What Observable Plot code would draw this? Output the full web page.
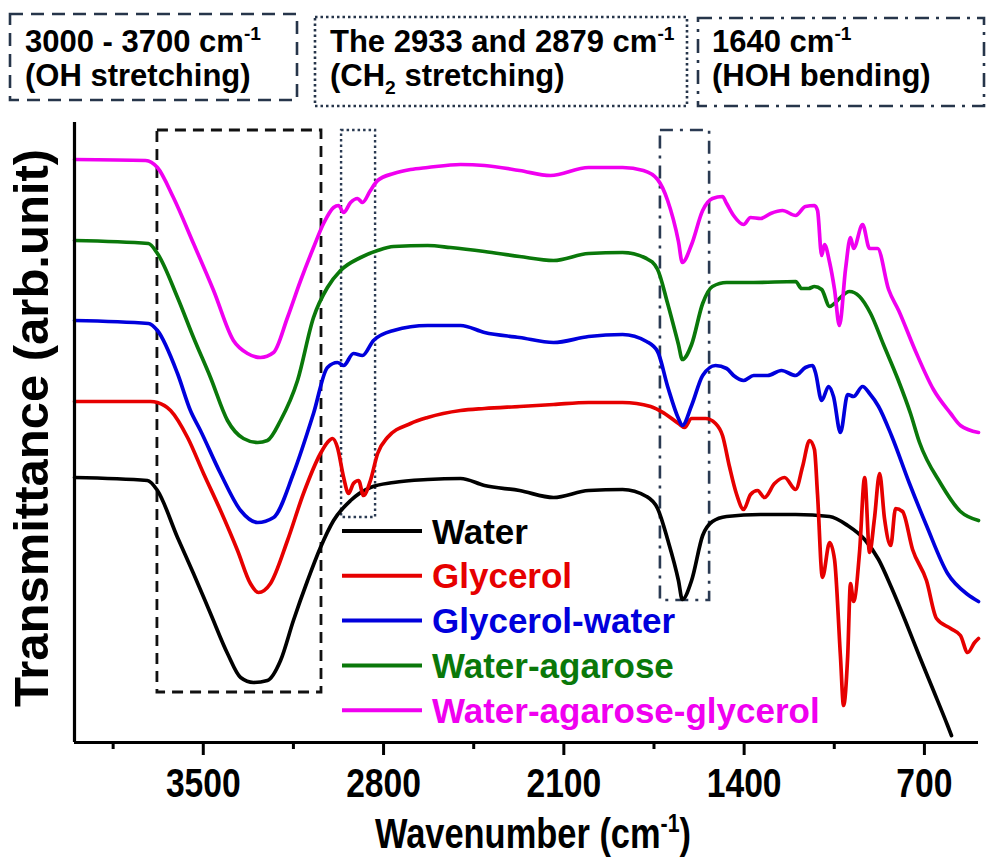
<!DOCTYPE html>
<html>
<head>
<meta charset="utf-8">
<script src="https://cdn.jsdelivr.net/npm/d3@7"></script>
<script src="https://cdn.jsdelivr.net/npm/@observablehq/plot@0.6"></script>
<style>
  html, body { margin: 0; padding: 0; background: #fff; }
  #chart svg { display: block; }
</style>
</head>
<body>
<div id="chart"></div>
<script>
// FTIR transmittance spectra (arbitrary units, curves offset vertically)
const seriesNames = ["Water", "Glycerol", "Glycerol-water", "Water-agarose", "Water-agarose-glycerol"];
const seriesColors = ["#000000", "#e60000", "#0000dc", "#0a780a", "#f000f0"];

const waterWn = [4000, 3717, 3678, 3600, 3538, 3472, 3406, 3355, 3305, 3251, 3200, 3150, 3095, 3045, 2994, 2928, 2851, 2761, 2629, 2501, 2408, 2272, 2140, 2004, 1872, 1779, 1736, 1697, 1655, 1640, 1604, 1561, 1523, 1468, 1336, 1200, 1068, 998, 932, 878, 828, 773, 719, 665, 610, 595];
const waterT = [26.5, 26.2, 25.2, 20.5, 16.9, 12.9, 8.9, 6.5, 6.0, 6.2, 8.2, 12.2, 16.2, 19.5, 22.2, 24.2, 25.5, 26.0, 26.3, 26.4, 25.7, 25.2, 24.5, 25.2, 25.3, 24.6, 23.4, 20.3, 16.2, 14.3, 16.2, 20.7, 22.1, 22.6, 22.8, 22.8, 22.6, 21.7, 20.3, 18.3, 15.5, 12.1, 8.6, 5.2, 1.7, 0.7];

const glycerolWn = [4000, 3705, 3678, 3627, 3561, 3499, 3433, 3367, 3317, 3286, 3239, 3173, 3111, 3045, 3018, 2998, 2979, 2955, 2936, 2917, 2897, 2878, 2851, 2823, 2785, 2695, 2629, 2501, 2408, 2272, 2140, 2004, 1872, 1763, 1709, 1655, 1631, 1604, 1550, 1511, 1484, 1457, 1429, 1402, 1375, 1348, 1321, 1282, 1243, 1200, 1173, 1146, 1127, 1115, 1096, 1068, 1049, 1026, 1014, 998, 987, 975, 952, 932, 913, 894, 874, 855, 831, 812, 785, 746, 692, 653, 598, 560, 532, 505, 490];
const glycerolT = [34.1, 34.1, 34.0, 33.2, 30.5, 26.9, 23.2, 19.2, 15.9, 15.0, 15.9, 20.2, 24.9, 28.9, 30.0, 30.4, 29.5, 26.5, 24.9, 25.9, 26.2, 24.7, 26.2, 28.9, 30.5, 31.9, 32.5, 33.2, 33.4, 33.6, 33.8, 34.0, 34.0, 33.6, 32.9, 31.9, 31.5, 32.4, 32.4, 31.9, 30.7, 27.6, 24.8, 23.3, 24.8, 25.2, 24.5, 25.9, 26.5, 25.3, 27.6, 30.2, 29.3, 24.8, 16.5, 20.0, 18.3, 8.6, 3.7, 8.6, 15.9, 14.1, 19.0, 26.5, 19.0, 22.4, 26.9, 22.4, 19.7, 23.4, 23.1, 19.3, 16.2, 12.4, 11.4, 10.7, 9.0, 10.0, 10.4];

const glycerolWaterWn = [4000, 3713, 3678, 3600, 3550, 3511, 3433, 3355, 3289, 3227, 3150, 3072, 3018, 2979, 2955, 2917, 2882, 2839, 2761, 2629, 2501, 2408, 2272, 2140, 2004, 1872, 1779, 1736, 1697, 1655, 1640, 1604, 1561, 1511, 1468, 1441, 1402, 1363, 1309, 1255, 1200, 1162, 1134, 1123, 1099, 1072, 1053, 1026, 998, 975, 940, 913, 878, 828, 758, 692, 610, 532, 490];
const glycerolWaterT = [42.2, 41.9, 41.2, 36.9, 33.2, 31.2, 26.9, 23.2, 22.0, 22.5, 26.9, 32.9, 37.5, 38.0, 37.7, 38.9, 38.7, 40.2, 41.2, 41.7, 41.7, 41.0, 40.5, 40.0, 40.6, 40.8, 40.1, 39.1, 35.6, 32.4, 31.7, 33.7, 36.7, 37.7, 37.4, 36.7, 36.2, 36.7, 36.7, 37.2, 36.7, 37.5, 37.7, 37.0, 34.2, 35.6, 34.6, 31.0, 34.8, 34.6, 35.6, 34.9, 33.6, 30.7, 25.9, 21.7, 16.9, 14.8, 14.1];

const waterAgaroseWn = [4000, 3713, 3678, 3600, 3538, 3472, 3406, 3344, 3289, 3251, 3200, 3134, 3072, 3018, 2967, 2889, 2823, 2761, 2629, 2540, 2408, 2272, 2140, 2004, 1872, 1779, 1736, 1697, 1655, 1640, 1604, 1561, 1523, 1468, 1363, 1200, 1177, 1150, 1127, 1099, 1068, 1049, 1030, 991, 952, 909, 859, 804, 754, 719, 637, 560, 490];
const waterAgaroseT = [50.2, 49.9, 48.9, 44.5, 40.5, 36.5, 32.2, 30.4, 30.0, 30.2, 32.2, 36.2, 42.5, 45.5, 47.2, 48.5, 49.2, 49.6, 49.7, 49.5, 49.1, 48.6, 48.2, 48.9, 49.0, 48.4, 47.3, 43.9, 39.8, 38.3, 39.8, 43.9, 45.6, 46.0, 46.0, 46.1, 45.4, 45.4, 45.6, 45.3, 43.6, 43.9, 44.4, 45.1, 44.6, 42.9, 39.8, 36.4, 32.9, 30.0, 25.9, 23.1, 22.2];

const waterAgaroseGlycerolWn = [4000, 3724, 3678, 3616, 3538, 3460, 3383, 3328, 3278, 3227, 3173, 3122, 3072, 3033, 2994, 2975, 2955, 2928, 2901, 2882, 2851, 2823, 2761, 2695, 2629, 2501, 2408, 2272, 2152, 2004, 1872, 1791, 1736, 1697, 1655, 1640, 1604, 1561, 1523, 1484, 1468, 1441, 1402, 1375, 1336, 1297, 1251, 1200, 1162, 1127, 1115, 1099, 1088, 1068, 1049, 1030, 1006, 987, 975, 940, 913, 882, 839, 800, 734, 665, 598, 560, 490];
const waterAgaroseGlycerolT = [58.3, 58.2, 57.5, 54.5, 49.9, 45.2, 40.2, 38.9, 38.5, 39.0, 42.5, 46.2, 49.5, 51.9, 53.5, 53.7, 53.0, 54.0, 54.4, 54.0, 55.2, 56.2, 56.9, 57.3, 57.5, 57.8, 57.7, 57.2, 56.7, 57.5, 57.5, 57.2, 56.3, 54.2, 50.1, 48.0, 49.8, 53.2, 54.4, 54.6, 53.9, 52.7, 51.8, 52.5, 52.4, 52.9, 53.2, 52.7, 53.6, 53.7, 53.2, 48.7, 49.8, 48.0, 45.3, 41.7, 47.4, 50.5, 49.4, 51.8, 49.4, 49.4, 45.3, 43.2, 39.1, 35.3, 32.9, 31.7, 31.0];

// Axis ticks
const majorTicks = [3500, 2800, 2100, 1400, 700];
const minorTicks = [3850, 3150, 2450, 1750, 1050];

// Highlighted spectral regions (wavenumber range, lower transmittance bound)
const regionFrom = [3678, 2963, 1725];
const regionTo = [3041, 2831, 1534];
const regionLow = [5.0, 22.5, 14.2];
const regionHigh = 61.2;

const spectra = [
  [waterWn, waterT],
  [glycerolWn, glycerolT],
  [glycerolWaterWn, glycerolWaterT],
  [waterAgaroseWn, waterAgaroseT],
  [waterAgaroseGlycerolWn, waterAgaroseGlycerolT]
];
const rows = seriesNames.flatMap((name, i) =>
  spectra[i][0].map((wn, j) => ({series: name, wn, t: spectra[i][1][j]}))
);
const regions = regionFrom.map((from, i) => ({from, to: regionTo[i], low: regionLow[i], high: regionHigh}));

const SANS = "'Liberation Sans', Arial, Helvetica, sans-serif";
const CONDENSE = 0.82; // horizontal squeeze for the axis lettering

const regionMark = (i, dash, stroke, width) => Plot.rect([regions[i]], {
  x1: "from", x2: "to", y1: "low", y2: "high",
  fill: "none", stroke, strokeWidth: width, strokeDasharray: dash
});

const chart = Plot.plot({
  width: 986,
  height: 861,
  marginTop: 122,
  marginBottom: 119,
  marginLeft: 74,
  marginRight: 8,
  style: {fontFamily: SANS, background: "#fff", overflow: "visible"},
  x: {domain: [4000, 490], axis: null},
  y: {domain: [0, 62], axis: null},
  color: {domain: seriesNames, range: seriesColors},
  marks: [
    regionMark(0, "11,7", "#111", 2.8),
    regionMark(1, "2.5,3", "#2a3a52", 2.4),
    regionMark(2, "13,7,3,7", "#2a3a52", 2.6),
    Plot.line(rows, {x: "wn", y: "t", z: "series", stroke: "series", strokeWidth: 3.7, curve: "monotone-x"}),
    Plot.ruleX([4000], {strokeWidth: 3.2}),
    Plot.ruleY([0], {strokeWidth: 3.2}),
    Plot.axisX({
      ticks: majorTicks, tickSize: 13, tickPadding: 12, strokeWidth: 3,
      fontSize: 41, fontWeight: "bold",
      tickFormat: d => String(d), label: null
    }),
    Plot.axisX({ticks: minorTicks, tickSize: 7, strokeWidth: 3, tickFormat: () => "", label: null})
  ]
});

document.getElementById("chart").appendChild(chart);

const svg = d3.select(chart);

// Condense a text element horizontally about its anchor point
function condense(node, factor) {
  const len = node.getComputedTextLength();
  if (len > 0) {
    node.setAttribute("textLength", (len * factor).toFixed(1));
    node.setAttribute("lengthAdjust", "spacingAndGlyphs");
  }
}
svg.selectAll("text").each(function () {
  if (this.textContent && /^\d+$/.test(this.textContent.trim())) condense(this, CONDENSE);
});

// Writes text parts with superscript / subscript runs into a <text> element
function richText(sel, parts, fs) {
  let shift = 0;
  parts.forEach(([txt, kind]) => {
    const target = kind === "sup" ? -fs * 0.38 : kind === "sub" ? fs * 0.25 : 0;
    sel.append("tspan")
      .attr("dy", target - shift)
      .attr("font-size", kind ? fs * 0.62 : fs)
      .text(txt);
    shift = target;
  });
}

// Annotation boxes above the plot
const headerBoxes = [
  {x: 10, y: 14, w: 287, h: 86, dash: "13,8", tx: 25,
   lines: [[["3000 - 3700 cm", ""], ["-1", "sup"]], [["(OH stretching)", ""]]]},
  {x: 315, y: 17, w: 372, h: 89, dash: "2.5,3", tx: 330,
   lines: [[["The 2933 and 2879 cm", ""], ["-1", "sup"]], [["(CH", ""], ["2", "sub"], [" stretching)", ""]]]},
  {x: 698, y: 18, w: 286, h: 88, dash: "14,7,3,7", tx: 712,
   lines: [[["1640 cm", ""], ["-1", "sup"]], [["(HOH bending)", ""]]]}
];
const header = svg.append("g").attr("text-anchor", "start");
headerBoxes.forEach(b => {
  header.append("rect")
    .attr("x", b.x).attr("y", b.y).attr("width", b.w).attr("height", b.h)
    .attr("fill", "none").attr("stroke", "#26354a").attr("stroke-width", 2.6)
    .attr("stroke-dasharray", b.dash);
  b.lines.forEach((parts, k) => {
    const t = header.append("text")
      .attr("x", b.tx).attr("y", 52 + k * 34)
      .attr("text-anchor", "start")
      .attr("font-family", SANS).attr("font-weight", "bold").attr("fill", "#000");
    richText(t, parts, 31);
  });
});

// Legend
const legend = svg.append("g").attr("text-anchor", "start");
seriesNames.forEach((name, i) => {
  const y = 531 + i * 44.8;
  legend.append("line")
    .attr("x1", 342).attr("x2", 422).attr("y1", y).attr("y2", y)
    .attr("stroke", seriesColors[i]).attr("stroke-width", 4);
  legend.append("text")
    .attr("x", 432).attr("y", y + 12.5)
    .attr("text-anchor", "start")
    .attr("font-family", SANS).attr("font-weight", "bold").attr("font-size", 35)
    .attr("fill", seriesColors[i]).text(name);
});

// Axis titles
const xTitleG = svg.append("g").attr("transform", `translate(533,848) scale(${CONDENSE},1)`);
const xTitle = xTitleG.append("text")
  .attr("x", 0).attr("y", 0).attr("text-anchor", "middle")
  .attr("font-family", SANS).attr("font-weight", "bold").attr("fill", "#000");
richText(xTitle, [["Wavenumber (cm", ""], ["-1", "sup"], [")", ""]], 42);

svg.append("text")
  .attr("transform", "translate(48,428) rotate(-90)")
  .attr("text-anchor", "middle")
  .attr("font-family", SANS).attr("font-weight", "bold").attr("font-size", 49)
  .attr("fill", "#000")
  .text("Transmittance (arb.unit)");
</script>
</body>
</html>
